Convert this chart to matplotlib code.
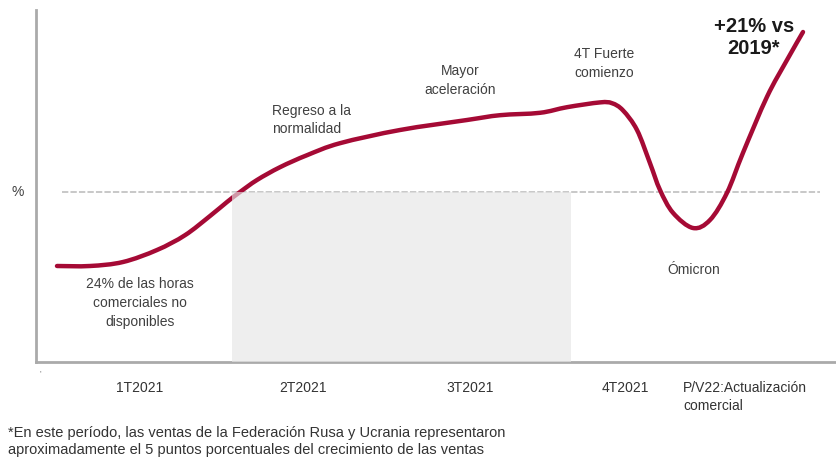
import matplotlib.pyplot as plt
import numpy as np
from matplotlib.path import Path
from matplotlib.patches import PathPatch, Rectangle

plt.rcParams['font.family'] = ['Liberation Sans', 'DejaVu Sans']

# curva de ventas (posicion en el eje x, valor relativo a 2019)
x_vals = [57, 90, 123, 157, 185, 210, 227, 240, 257, 280, 307, 340, 400, 467, 500,
          540, 567, 600, 612, 623, 637, 650, 660, 673, 693, 710, 727, 743, 767, 787, 803]
y_vals = [-9.25, -9.25, -8.75, -7.25, -5.4, -3.0, -1.25, 0.0, 1.5, 3.1, 4.6, 6.1, 7.75, 9.0, 9.6,
          9.9, 10.6, 11.2, 11.1, 10.2, 7.75, 3.6, 0.25, -2.6, -4.5, -3.5, -0.1, 4.9, 11.9, 16.5, 20.0]

tick_pos = [140, 303, 470, 625, 683]
tick_labels = ['1T2021', '2T2021', '3T2021', '4T2021', 'P/V22:Actualización\ncomercial']

shade_x = [232, 571]   # zona gris (2T-3T)

fig = plt.figure(figsize=(8.37, 4.59), dpi=100)
ax = fig.add_axes([36 / 837, 97 / 459, 801 / 837, 352 / 459])
ax.set_xlim(36, 837)
ax.set_ylim(-21.25, 22.75)

# linea base discontinua
ax.plot([62, 820], [0, 0], color='#c4c4c4', lw=1.3, ls=(0, (3.5, 1.2)), zorder=1)

# curva suavizada (bezier catmull-rom)
pts = np.column_stack([x_vals, y_vals])
verts = [tuple(pts[0])]
codes = [Path.MOVETO]
for i in range(len(pts) - 1):
    p0 = pts[i - 1] if i > 0 else pts[i]
    p1 = pts[i]
    p2 = pts[i + 1]
    p3 = pts[i + 2] if i + 2 < len(pts) else pts[i + 1]
    c1 = p1 + (p2 - p0) / 6
    c2 = p2 - (p3 - p1) / 6
    verts += [tuple(c1), tuple(c2), tuple(p2)]
    codes += [Path.CURVE4] * 3
ax.add_patch(PathPatch(Path(verts, codes), fill=False, ec='#a50a35', lw=3.2,
                       capstyle='round', joinstyle='round', zorder=2))

ax.add_patch(Rectangle((shade_x[0], -21.25), shade_x[1] - shade_x[0], 21.25,
                       fc='#e6e6e6', ec='none', alpha=0.65, zorder=3))

for s in ['top', 'right']:
    ax.spines[s].set_visible(False)
for s in ['left', 'bottom']:
    ax.spines[s].set_color('#aaaaaa')
    ax.spines[s].set_linewidth(2)
ax.set_yticks([])
ax.set_xticks(tick_pos)
ax.set_xticklabels(tick_labels, fontsize=10, color='#333333', va='top')
ax.tick_params(axis='x', length=0, pad=14)
ax.get_xticklabels()[-1].set_ha('left')
ax.get_xticklabels()[-1].set_linespacing(1.35)

txt = dict(fontsize=10, color='#404040', linespacing=1.45)
ax.text(140, -13.9, '24% de las horas\ncomerciales no\ndisponibles', ha='center', va='center', **txt)
ax.text(272, 9.0, 'Regreso a la\nnormalidad', ha='left', va='center', **txt)
ax.text(460, 13.9, 'Mayor\naceleración', ha='center', va='center', **txt)
ax.text(604, 16.1, '4T Fuerte\ncomienzo', ha='center', va='center', **txt)
ax.text(694, -9.7, 'Ómicron', ha='center', va='center', **txt)
ax.text(754, 19.3, '+21% vs\n2019*', ha='center', va='center', fontsize=14.5,
        fontweight='bold', color='#1a1a1a', linespacing=1.25)

fig.text(18 / 837, 1 - 192 / 459, '%', ha='center', va='center', fontsize=10, color='#404040')
fig.text(40 / 837, 1 - 374 / 459, "'", ha='center', va='center', fontsize=6, color='#666666')
fig.text(8 / 837, 1 - 441.5 / 459,
         '*En este período, las ventas de la Federación Rusa y Ucrania representaron\n'
         'aproximadamente el 5 puntos porcentuales del crecimiento de las ventas',
         ha='left', va='center', fontsize=10.5, color='#333333', linespacing=1.35)

fig.savefig('out.png', dpi=100)
